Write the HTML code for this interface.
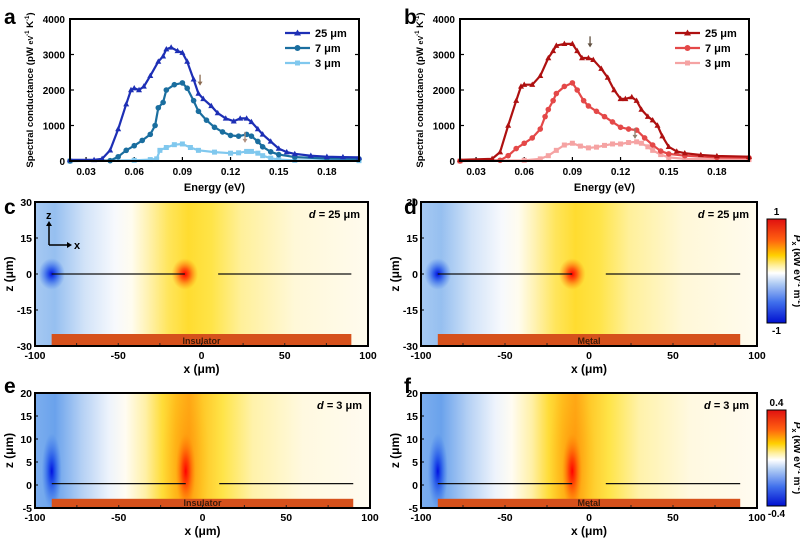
<!DOCTYPE html>
<html><head><meta charset="utf-8"><style>
html,body{margin:0;padding:0;background:#fff;width:800px;height:538px;overflow:hidden}
svg{display:block;font-family:"Liberation Sans",Arial,sans-serif}
text{font-weight:bold}
</style></head><body>
<svg id="fig" width="800" height="538" viewBox="0 0 800 538">
<defs>
<linearGradient id="hgC" x1="0" y1="0" x2="1" y2="0">
<stop offset="0" stop-color="#a6c9f2"/><stop offset="0.06" stop-color="#96bff0"/><stop offset="0.15" stop-color="#d2e3f8"/><stop offset="0.24" stop-color="#f7f9fd"/><stop offset="0.29" stop-color="#fffcef"/><stop offset="0.34" stop-color="#fff2b0"/><stop offset="0.4" stop-color="#ffe55c"/><stop offset="0.46" stop-color="#ffdc30"/><stop offset="0.53" stop-color="#ffe448"/><stop offset="0.62" stop-color="#fff09a"/><stop offset="0.78" stop-color="#fff8d8"/><stop offset="1" stop-color="#fffbee"/>
</linearGradient>
<linearGradient id="hgE" x1="0" y1="0" x2="1" y2="0">
<stop offset="0" stop-color="#7caeee"/><stop offset="0.06" stop-color="#6aa2ec"/><stop offset="0.14" stop-color="#b4d0f4"/><stop offset="0.22" stop-color="#edf3fc"/><stop offset="0.27" stop-color="#fffcf2"/><stop offset="0.33" stop-color="#fff0a6"/><stop offset="0.38" stop-color="#ffdc38"/><stop offset="0.42" stop-color="#ffc020"/><stop offset="0.46" stop-color="#ffa818"/><stop offset="0.5" stop-color="#ffc828"/><stop offset="0.56" stop-color="#ffe448"/><stop offset="0.65" stop-color="#fff2aa"/><stop offset="0.8" stop-color="#fff9e0"/><stop offset="1" stop-color="#fffbf0"/>
</linearGradient>
<radialGradient id="rgBlue"><stop offset="0" stop-color="#0010e0"/><stop offset="0.35" stop-color="#1040e8" stop-opacity="0.75"/><stop offset="1" stop-color="#3070ea" stop-opacity="0"/></radialGradient>
<radialGradient id="rgRed"><stop offset="0" stop-color="#ff0000"/><stop offset="0.35" stop-color="#ff2a00" stop-opacity="0.75"/><stop offset="1" stop-color="#ff8000" stop-opacity="0"/></radialGradient>
<radialGradient id="rgOrange"><stop offset="0" stop-color="#ff7a00" stop-opacity="0.55"/><stop offset="1" stop-color="#ffb000" stop-opacity="0"/></radialGradient>
<linearGradient id="cbar" x1="0" y1="0" x2="0" y2="1">
<stop offset="0" stop-color="#e01010"/><stop offset="0.2" stop-color="#ff6010"/><stop offset="0.35" stop-color="#ffd000"/><stop offset="0.45" stop-color="#fff0a0"/><stop offset="0.52" stop-color="#ffffff"/><stop offset="0.62" stop-color="#b0ccf4"/><stop offset="0.8" stop-color="#4070ec"/><stop offset="1" stop-color="#0010d0"/>
</linearGradient>
</defs>
<g id="root"></g>
</svg>
<script>
// ---- chart data (panel a, insulator) ----
const aE25 = [0.02,0.035,0.04,0.045,0.05,0.055,0.058,0.06,0.063,0.066,0.07,0.075,0.078,0.08,0.083,0.087,0.09,0.093,0.097,0.1,0.103,0.108,0.112,0.117,0.122,0.126,0.13,0.133,0.137,0.14,0.145,0.15,0.155,0.16,0.17,0.18,0.19,0.2];
const aV25 = [30,30,60,300,900,1600,2000,2050,2000,2100,2400,2800,2950,3150,3200,3100,3050,2800,2300,1900,1750,1550,1350,1200,1120,1200,1200,1100,900,750,550,350,250,200,150,120,110,100];
const aE7 = [0.02,0.045,0.05,0.055,0.06,0.065,0.07,0.073,0.075,0.078,0.08,0.085,0.09,0.093,0.097,0.1,0.105,0.11,0.115,0.12,0.125,0.13,0.133,0.137,0.14,0.145,0.15,0.16,0.18,0.2];
const aV7 = [0,10,120,300,430,580,750,1000,1500,1650,2000,2150,2200,2050,1700,1400,1150,950,820,720,700,750,700,550,400,260,180,110,70,60];
const aE3 = [0.02,0.06,0.07,0.074,0.076,0.08,0.085,0.09,0.095,0.1,0.11,0.12,0.125,0.13,0.133,0.137,0.14,0.145,0.15,0.16,0.2];
const aV3 = [0,20,40,60,300,380,460,480,380,300,250,220,230,270,270,220,150,80,40,20,10];
// ---- chart data (panel b, metal) ----
const bE25 = [0.02,0.04,0.045,0.05,0.055,0.058,0.06,0.065,0.07,0.075,0.078,0.08,0.085,0.09,0.093,0.096,0.1,0.103,0.108,0.112,0.116,0.12,0.123,0.127,0.13,0.133,0.137,0.14,0.143,0.146,0.15,0.155,0.16,0.17,0.18,0.2];
const bV25 = [30,60,250,1000,1700,2100,2150,2150,2400,2900,3100,3250,3300,3300,3100,2900,2900,2850,2600,2350,2000,1750,1750,1800,1700,1450,1250,1150,1000,700,400,270,220,170,140,120];
const bE7 = [0.02,0.045,0.05,0.055,0.06,0.065,0.07,0.073,0.075,0.078,0.08,0.085,0.09,0.093,0.097,0.1,0.105,0.11,0.115,0.12,0.125,0.13,0.135,0.14,0.145,0.15,0.16,0.18,0.2];
const bV7 = [0,20,150,350,500,650,900,1250,1450,1700,1900,2100,2200,2000,1700,1550,1400,1250,1100,950,900,870,650,450,280,200,150,100,90];
const bE3 = [0.02,0.06,0.07,0.075,0.08,0.085,0.09,0.095,0.1,0.105,0.11,0.115,0.12,0.125,0.13,0.133,0.137,0.14,0.145,0.15,0.16,0.2];
const bV3 = [0,20,60,150,300,450,500,420,370,390,440,480,480,520,540,500,400,300,180,100,60,40];
const xTicks = [0.03,0.06,0.09,0.12,0.15,0.18];
const xTickLabels = ["0.03","0.06","0.09","0.12","0.15","0.18"];
const yTicks = [0,1000,2000,3000,4000];
const legendLabels = ["25 μm","7 μm","3 μm"];
const mapXTicks = [-100,-50,0,50,100];
const mapZTicksCD = [30,15,0,-15,-30];
const mapZTicksEF = [20,15,10,5,0,-5];

const NS = "http://www.w3.org/2000/svg";
const root = document.getElementById('root');
function mk(tag, attrs, parent, txt){
  const e = document.createElementNS(NS, tag);
  for (const k in attrs) e.setAttribute(k, attrs[k]);
  if (txt !== undefined) e.textContent = txt;
  (parent||root).appendChild(e);
  return e;
}
function panelLetter(t, x, y){
  const e = mk('text',{x:x,y:y,'font-size':21},root,t);
  
  
}

function lineChart(id, left, E25,V25,E7,V7,E3,V3, colors, arrows){
  const L=left, R=left+289, T=19, B=161;
  const X = e => L + (e-0.02)/0.18*(R-L);
  const Y = v => B - v/4000*(B-T);
  const g = mk('g',{});
  
  
  xTicks.forEach((t,i)=>{
    mk('line',{x1:X(t),x2:X(t),y1:B,y2:B-4,stroke:'#000','stroke-width':1.2},g);
    const tl = mk('text',{x:X(t),y:B+14,'font-size':10,'text-anchor':'middle'},g,xTickLabels[i]);
    
    
  });
  yTicks.forEach(t=>{
    mk('line',{x1:L,x2:L+4,y1:Y(t),y2:Y(t),stroke:'#000','stroke-width':1.2},g);
    mk('line',{x1:R,x2:R-4,y1:Y(t),y2:Y(t),stroke:'#000','stroke-width':1.2},g);
    const tl = mk('text',{x:L-5,y:Y(t)+4,'font-size':10,'text-anchor':'end'},g,String(t));
    
    
  });
  const xt = mk('text',{x:(L+R)/2,y:191,'font-size':11,'text-anchor':'middle'},g,'Energy (eV)');
  
  
  const yt = mk('text',{x:0,y:0,'font-size':9.6,'text-anchor':'middle',transform:`translate(${L-37},${(T+B)/2}) rotate(-90)`},g);
  
  
  yt.innerHTML = 'Spectral conductance (pW <tspan font-size="7">eV</tspan><tspan font-size="6" dy="-4">-1</tspan><tspan dy="4"> K</tspan><tspan font-size="6" dy="-4">-1</tspan><tspan dy="4">)</tspan>';
  const series = [[E3,V3,colors[2],'square','3um'],[E7,V7,colors[1],'circle','7um'],[E25,V25,colors[0],'tri','25um']];
  series.forEach(s=>{
    const [E,V,c,m,n] = s;
    const pts = E.map((e,i)=>X(e).toFixed(1)+','+Y(V[i]).toFixed(1)).join(' ');
    const pl = mk('polyline',{points:pts,fill:'none',stroke:c,'stroke-width':2.2,'stroke-linejoin':'round'},g);
    
    
    E.forEach((e,i)=>{
      const x=X(e), y=Y(V[i]);
      let mkEl;
      if (m==='tri') mkEl = mk('polygon',{points:`${x},${y-3.2} ${x-3},${y+2.2} ${x+3},${y+2.2}`,fill:c},g);
      else if (m==='circle') mkEl = mk('circle',{cx:x,cy:y,r:2.8,fill:c},g);
      else mkEl = mk('rect',{x:x-2.5,y:y-2.5,width:5,height:5,fill:c},g);
      
      
    });
  });
  arrows.forEach(a=>{
    const x=X(a[0]), y=Y(a[1]);
    mk('line',{x1:x,x2:x,y1:y-10,y2:y,stroke:a[2],'stroke-width':1.3},g);
    const ah = mk('polygon',{points:`${x-2.5},${y-3} ${x+2.5},${y-3} ${x},${y+1}`,fill:a[2]},g);
    
    
  });
  const lg = mk('g',{},g);
  
  
  const ly=[33,48,63];
  [colors[0],colors[1],colors[2]].forEach((c,i)=>{
    const lx = L+215;
    mk('line',{x1:lx,x2:lx+25,y1:ly[i],y2:ly[i],stroke:c,'stroke-width':2.2},lg);
    if(i===0) mk('polygon',{points:`${lx+12.5},${ly[i]-3.5} ${lx+9},${ly[i]+2.5} ${lx+16},${ly[i]+2.5}`,fill:c},lg);
    else if(i===1) mk('circle',{cx:lx+12.5,cy:ly[i],r:3,fill:c},lg);
    else mk('rect',{x:lx+10,y:ly[i]-2.5,width:5,height:5,fill:c},lg);
    const t = mk('text',{x:lx+30,y:ly[i]+4,'font-size':11},lg,legendLabels[i]);
    
    
  });
  const fr = mk('rect',{x:L,y:T,width:R-L,height:B-T,fill:'none',stroke:'#000','stroke-width':2},g);
  
  
}

lineChart('panel-a',70,aE25,aV25,aE7,aV7,aE3,aV3,['#1d2fb5','#1a6e9f','#80c8ee'],[[0.101,2150,'#8a6a50'],[0.129,540,'#b09080']]);
lineChart('panel-b',460,bE25,bV25,bE7,bV7,bE3,bV3,['#ae1010','#e44848','#f5a3a3'],[[0.101,3230,'#605040'],[0.129,650,'#908070']]);

function heatmap(id, L, R, T, B, zmax, zmin, zTicks, grad, sub, dlabel, thin){
  const X = x => L + (x+100)/200*(R-L);
  const Z = z => T + (zmax-z)/(zmax-zmin)*(B-T);
  const g = mk('g',{});
  
  
  const cp = 'clip-'+id;
  const cl = mk('clipPath',{id:cp},g);
  mk('rect',{x:L,y:T,width:R-L,height:B-T},cl);
  const inner = mk('g',{'clip-path':`url(#${cp})`},g);
  mk('rect',{x:L,y:T,width:R-L,height:B-T,fill:`url(#${grad})`},inner);
  if(thin){
    mk('ellipse',{cx:X(-10),cy:Z(5),rx:(R-L)*0.07,ry:(B-T)*0.8,fill:'url(#rgOrange)'},inner);
    mk('ellipse',{cx:X(-90),cy:Z(3),rx:(R-L)*0.03,ry:(B-T)*0.33,fill:'url(#rgBlue)'},inner);
    mk('ellipse',{cx:X(-10),cy:Z(3),rx:(R-L)*0.03,ry:(B-T)*0.33,fill:'url(#rgRed)'},inner);
  } else {
    mk('ellipse',{cx:X(-90),cy:Z(0),rx:(R-L)*0.04,ry:(B-T)*0.11,fill:'url(#rgBlue)'},inner);
    mk('ellipse',{cx:X(-10),cy:Z(0),rx:(R-L)*0.04,ry:(B-T)*0.11,fill:'url(#rgRed)'},inner);
  }
  const zl = thin?0.3:0;
  const w1 = mk('line',{x1:X(-90),x2:X(-10),y1:Z(zl),y2:Z(zl),stroke:'#111','stroke-width':1.2},g);
  
  
  const w2 = mk('line',{x1:X(10),x2:X(90),y1:Z(zl),y2:Z(zl),stroke:'#111','stroke-width':1.2},g);
  
  
  const st = thin? -3 : -25;
  const sb = mk('rect',{x:X(-90),y:Z(st),width:X(90)-X(-90),height:B-Z(st),fill:'#d6511c'},g);
  
  
  const stt = mk('text',{x:X(0),y:B-2,'font-size':9,'font-weight':'normal','text-anchor':'middle',fill:'#3a1a0a'},g,sub);
  
  
  const d = mk('text',{x:R-8,y:T+16,'font-size':11,'text-anchor':'end'},g);
  d.innerHTML = '<tspan font-style="italic">d</tspan> = '+dlabel;
  
  
  [-75,-50,-25,0,25,50,75].forEach(t=>mk('line',{x1:X(t),x2:X(t),y1:B,y2:B-3,stroke:'#222','stroke-width':1},g));
  mapXTicks.forEach(t=>{
    const tl = mk('text',{x:X(t),y:B+13,'font-size':10.5,'text-anchor':'middle'},g,String(t));
    
    
  });
  zTicks.forEach(t=>{
    mk('line',{x1:L,x2:L+3,y1:Z(t),y2:Z(t),stroke:'#000'},g);
    const tl = mk('text',{x:L-3,y:Z(t)+4,'font-size':10.5,'text-anchor':'end'},g,String(t));
    
    
  });
  const xt = mk('text',{x:X(0),y:B+27,'font-size':12,'text-anchor':'middle'},g,'x (μm)');
  
  
  const zt = mk('text',{x:0,y:0,'font-size':12,'text-anchor':'middle',transform:`translate(${L-22},${(T+B)/2}) rotate(-90)`},g,'z (μm)');
  
  
  const fr = mk('rect',{x:L,y:T,width:R-L,height:B-T,fill:'none',stroke:'#000','stroke-width':2},g);
  
  
  return g;
}
heatmap('panel-c',35,368,202,346,30,-30,mapZTicksCD,'hgC','Insulator','25 μm',false);
heatmap('panel-d',421,757,202,346,30,-30,mapZTicksCD,'hgC','Metal','25 μm',false);
heatmap('panel-e',35,370,393,508,20,-5,mapZTicksEF,'hgE','Insulator','3 μm',true);
heatmap('panel-f',421,757,393,508,20,-5,mapZTicksEF,'hgE','Metal','3 μm',true);

const ax = mk('g',{});


mk('line',{x1:49,y1:245,x2:49,y2:225,stroke:'#000','stroke-width':1.5},ax);
mk('polygon',{points:'46,226 52,226 49,221',fill:'#000'},ax);
mk('line',{x1:49,y1:245,x2:68,y2:245,stroke:'#000','stroke-width':1.5},ax);
mk('polygon',{points:'67,242 67,248 72,245',fill:'#000'},ax);
mk('text',{x:46,y:219,'font-size':11},ax,'z');
mk('text',{x:74,y:249,'font-size':11},ax,'x');

function colorbar(T,B,top,bot){
  const g = mk('g',{});
  
  
  mk('rect',{x:767,y:T,width:19,height:B-T,fill:'url(#cbar)',stroke:'#000','stroke-width':1},g);
  mk('text',{x:776.5,y:T-4,'font-size':10,'text-anchor':'middle'},g,top);
  mk('text',{x:776.5,y:B+11,'font-size':10,'text-anchor':'middle'},g,bot);
  const t = mk('text',{x:0,y:0,'font-size':10,transform:`translate(794,${(T+B)/2}) rotate(90)`,'text-anchor':'middle'},g);
  t.innerHTML = '<tspan font-style="italic">P</tspan><tspan font-size="7" dy="2">x</tspan><tspan dy="-2"> (kW eV</tspan><tspan font-size="6" dy="-4">-1</tspan><tspan dy="4"> m</tspan><tspan font-size="6" dy="-4">-2</tspan><tspan dy="4">)</tspan>';
}
colorbar(219,323,'1','-1');
colorbar(410,506,'0.4','-0.4');

panelLetter('a',4,24); panelLetter('b',404,24);
panelLetter('c',4,214); panelLetter('d',404,214);
panelLetter('e',4,393); panelLetter('f',404,393);
</script>
</body></html>
